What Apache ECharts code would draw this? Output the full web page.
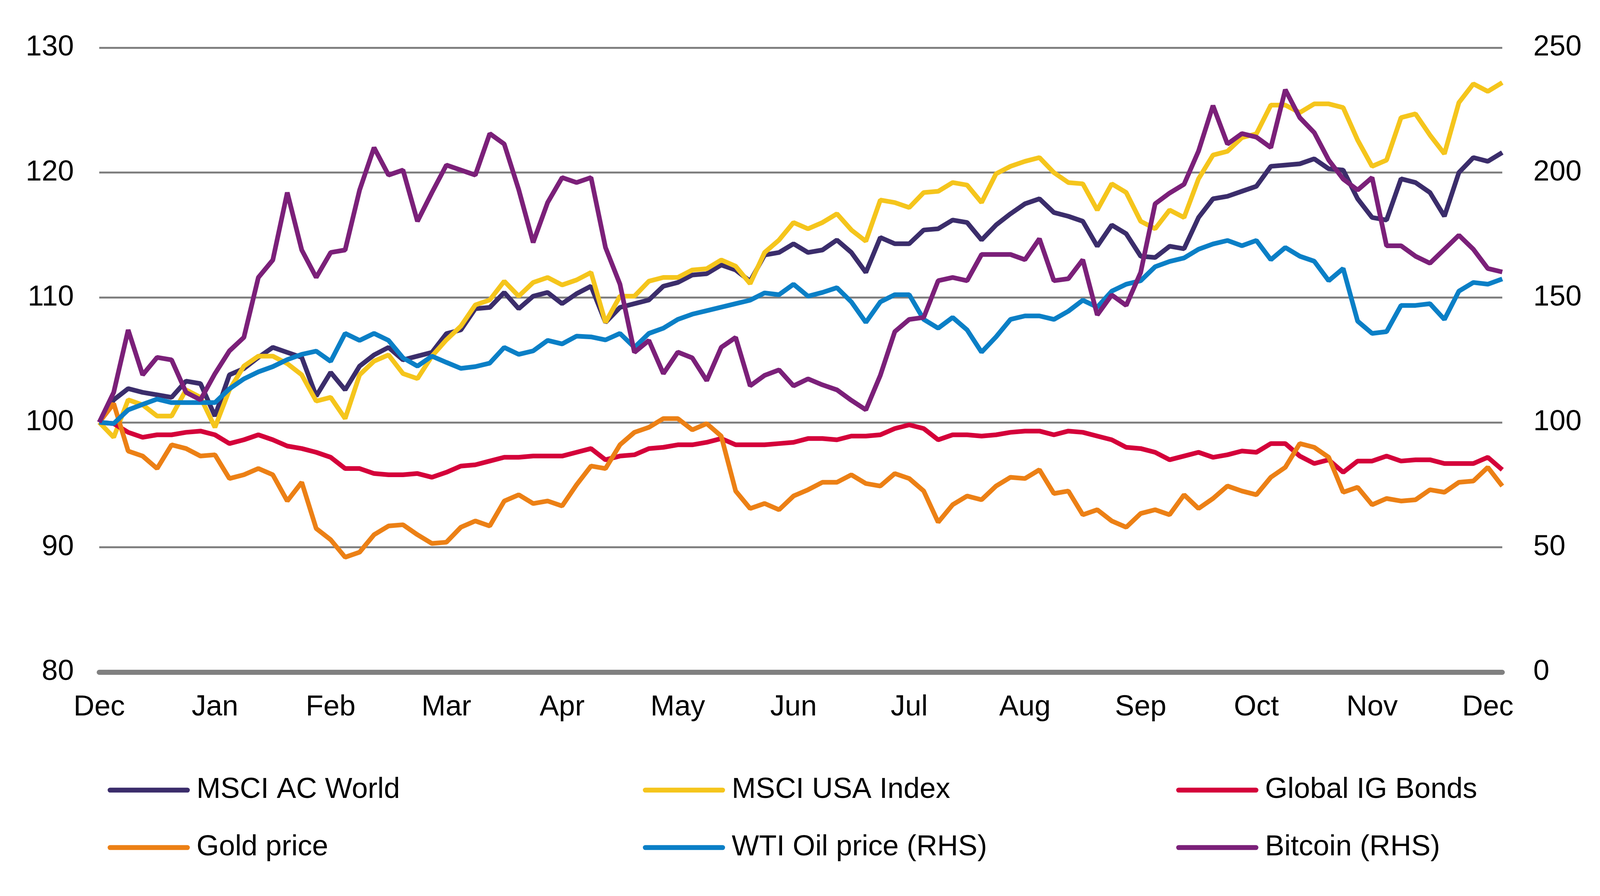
<!DOCTYPE html>
<html><head>
<meta charset="UTF-8">
<title>Asset performance</title>
<script src="https://cdn.jsdelivr.net/npm/echarts@6/dist/echarts.min.js"></script>
<style>
html,body{margin:0;padding:0;background:#fff;overflow:hidden;}
#main{width:100vw;height:100vh;}
</style>
</head>
<body>
<div id="main"></div>
<script>
// month tick labels, one every 8 samples
var monthLabels = ['Dec','Jan','Feb','Mar','Apr','May','Jun','Jul','Aug','Sep','Oct','Nov','Dec'];

// left axis (rebased to 100)
var worldVals = [100,101.8,102.7,102.4,102.2,102.0,103.3,103.1,100.5,103.8,104.3,105.2,106.0,105.6,105.2,102.1,
  104.0,102.6,104.5,105.4,106.0,105.0,105.3,105.6,107.1,107.4,109.1,109.2,110.4,109.1,110.1,110.4,
  109.5,110.3,110.9,108.0,109.2,109.5,109.8,110.9,111.2,111.8,111.9,112.6,112.2,111.3,113.4,113.6,
  114.3,113.6,113.8,114.6,113.6,112.0,114.8,114.3,114.3,115.4,115.5,116.2,116.0,114.6,115.8,116.7,
  117.5,117.9,116.8,116.5,116.1,114.1,115.8,115.1,113.3,113.2,114.1,113.9,116.4,117.9,118.1,118.5,
  118.9,120.5,120.6,120.7,121.1,120.3,120.2,117.9,116.4,116.2,119.5,119.2,118.4,116.5,120.0,121.2,
  120.9,121.6];
var usaVals = [100,98.8,101.8,101.4,100.5,100.5,102.6,102.0,99.6,102.6,104.5,105.3,105.3,104.7,103.8,101.7,
  102.0,100.3,103.8,104.9,105.4,103.9,103.5,105.3,106.6,107.7,109.4,109.8,111.3,110.1,111.2,111.6,
  111.0,111.4,112.0,108.0,110.1,110.1,111.3,111.6,111.6,112.2,112.3,113.0,112.5,111.1,113.6,114.6,
  116.0,115.5,116.0,116.7,115.4,114.5,117.8,117.6,117.2,118.4,118.5,119.2,119.0,117.6,119.9,120.5,
  120.9,121.2,120.0,119.2,119.1,117.0,119.1,118.4,116.1,115.5,117.0,116.4,119.5,121.4,121.7,122.8,
  123.1,125.4,125.4,124.8,125.5,125.5,125.2,122.6,120.5,121.0,124.4,124.7,123.0,121.5,125.6,127.1,
  126.5,127.2];
var bondVals = [100,99.9,99.2,98.8,99.0,99.0,99.2,99.3,99.0,98.3,98.6,99.0,98.6,98.1,97.9,97.6,
  97.2,96.3,96.3,95.9,95.8,95.8,95.9,95.6,96.0,96.5,96.6,96.9,97.2,97.2,97.3,97.3,
  97.3,97.6,97.9,97.0,97.3,97.4,97.9,98.0,98.2,98.2,98.4,98.7,98.2,98.2,98.2,98.3,
  98.4,98.7,98.7,98.6,98.9,98.9,99.0,99.5,99.8,99.5,98.6,99.0,99.0,98.9,99.0,99.2,
  99.3,99.3,99.0,99.3,99.2,98.9,98.6,98.0,97.9,97.6,97.0,97.3,97.6,97.2,97.4,97.7,
  97.6,98.3,98.3,97.3,96.7,97.0,96.0,96.9,96.9,97.3,96.9,97.0,97.0,96.7,96.7,96.7,
  97.2,96.2];
var goldVals = [100,101.5,97.7,97.3,96.3,98.2,97.9,97.3,97.4,95.5,95.8,96.3,95.8,93.7,95.2,91.5,
  90.6,89.2,89.6,91.0,91.7,91.8,91.0,90.3,90.4,91.6,92.1,91.7,93.7,94.2,93.5,93.7,
  93.3,95.0,96.5,96.3,98.2,99.2,99.6,100.3,100.3,99.4,99.9,98.9,94.5,93.1,93.5,93.0,
  94.1,94.6,95.2,95.2,95.8,95.1,94.9,95.9,95.5,94.5,92.0,93.4,94.1,93.8,94.9,95.6,
  95.5,96.2,94.3,94.5,92.6,93.0,92.1,91.6,92.7,93.0,92.6,94.2,93.1,93.9,94.9,94.5,
  94.2,95.6,96.4,98.3,98.0,97.2,94.4,94.8,93.4,93.9,93.7,93.8,94.6,94.4,95.2,95.3,
  96.4,94.9];

// right axis (RHS)
var oilVals = [100,99.5,105.0,107.2,109.3,107.9,107.9,107.9,107.9,113.4,117.4,120.2,122.3,125.1,127.2,128.5,
  124.4,135.6,132.8,135.6,132.8,125.8,122.5,126.5,124.0,121.6,122.3,123.7,130.0,127.2,128.6,132.8,
  131.4,134.5,134.2,133.0,135.6,130.0,135.6,137.7,141.2,143.3,144.7,146.1,147.5,148.9,151.8,151.1,
  155.3,150.5,152.0,153.9,148.2,140.0,148.2,151.1,151.1,141.2,137.7,142.0,137.0,128.1,134.2,141.2,
  142.6,142.6,141.2,144.5,148.9,146.1,152.5,155.3,156.7,162.3,164.4,165.8,169.3,171.4,172.8,170.7,
  172.8,165.1,170.0,166.5,164.5,156.7,161.6,140.5,135.6,136.3,146.8,146.8,147.5,141.2,152.5,156.0,
  155.3,157.4];
var btcVals = [100,112,137,119,126,125,112,109,119.5,128.6,134,158,165,192,169,158,
  168,169,193,210,199,201,180.5,192,203,201,199,215.6,211.4,193.2,172,188,
  198,196,198,170,155.3,128,132.8,119.5,128.1,125.8,116.7,130,134,114.6,118.8,121,
  114.6,117.4,115,113,108.8,105,118.8,136.3,141.2,142,156.7,158,156.7,167.2,167.2,167.2,
  165.1,173.5,156.7,157.5,165.1,143,151,146.8,160,187.5,191.8,195.3,208.6,226.8,211.4,215.6,
  214.2,210,233.2,222,216,205,197.4,193,198,170.7,170.7,166.5,163.7,169.3,174.9,169.3,
  161.6,160.2];

var seriesNames = ['MSCI AC World','MSCI USA Index','Global IG Bonds','Gold price','WTI Oil price (RHS)','Bitcoin (RHS)'];
var seriesColors = ['#3b2d6b','#f5c51c','#d4003a','#ec8015','#0a7fc6','#7b2079'];
var seriesData = [worldVals, usaVals, bondVals, goldVals, oilVals, btcVals];
var seriesAxis = [0,0,0,0,1,1];

var cats = [];
for (var i = 0; i < worldVals.length; i++) { cats.push(String(i)); }

var FONT = "'Liberation Sans', Arial, sans-serif";
var capsule = 'path://M5,0H162A5,5,0,0,1,162,10H5A5,5,0,0,1,5,0Z';

var chart = echarts.init(document.getElementById('main'));
// layout was measured on a 4224px wide picture; scale horizontal positions to the real width
var sx = chart.getWidth() / 4224;

// legend: 3 columns x 2 rows
var legendLeft = [279, 1692, 3100];
var legendTop = [1980, 2127];
var legends = [];
for (var k = 0; k < seriesNames.length; k++) {
  legends.push({
    data: [seriesNames[k]],
    left: legendLeft[k % 3] * sx,
    top: legendTop[Math.floor(k / 3)],
    icon: capsule,
    itemWidth: 217 * sx,
    itemHeight: 13,
    selectedMode: false,
    textStyle: {fontFamily: FONT, fontSize: 74, color: '#000', padding: [0, 0, 0, 12]}
  });
}

var series = [];
for (var s = 0; s < seriesNames.length; s++) {
  series.push({
    name: seriesNames[s],
    type: 'line',
    yAxisIndex: seriesAxis[s],
    data: seriesData[s],
    showSymbol: false,
    symbol: 'none',
    lineStyle: {width: 12, color: seriesColors[s]},
    itemStyle: {color: seriesColors[s]},
    emphasis: {disabled: true}
  });
}

var option = {
  backgroundColor: '#fff',
  animation: false,
  textStyle: {fontFamily: FONT},
  legend: legends,
  grid: {left: 262 * sx, right: 258 * sx, top: 122, bottom: 573, containLabel: false},
  xAxis: {
    type: 'category',
    data: cats,
    boundaryGap: false,
    axisLine: {lineStyle: {color: '#808080', width: 13}},
    axisTick: {show: false},
    splitLine: {show: false},
    axisLabel: {
      interval: 0,
      margin: 54,
      fontFamily: FONT, fontSize: 74, color: '#000',
      formatter: function (val, idx) { return idx % 8 === 0 ? monthLabels[idx / 8] : ''; }
    }
  },
  yAxis: [{
    type: 'value', min: 80, max: 130, interval: 10,
    axisLine: {show: false}, axisTick: {show: false},
    splitLine: {lineStyle: {color: '#808080', width: 5}},
    axisLabel: {margin: 67 * sx, fontFamily: FONT, fontSize: 74, color: '#000'}
  }, {
    type: 'value', min: 0, max: 250, interval: 50, position: 'right',
    axisLine: {show: false}, axisTick: {show: false},
    splitLine: {show: false},
    axisLabel: {margin: 82 * sx, fontFamily: FONT, fontSize: 74, color: '#000'}
  }],
  series: series
};

chart.setOption(option);
</script>
</body>
</html>
